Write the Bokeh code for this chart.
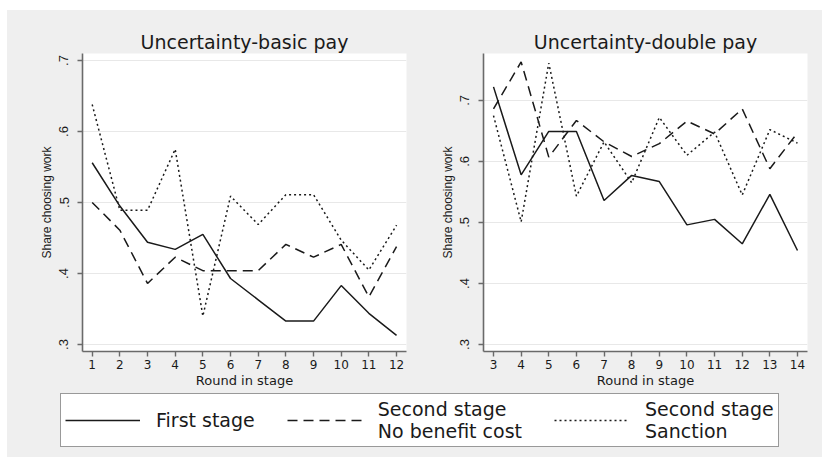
from bokeh.plotting import figure
from bokeh.layouts import column, row
from bokeh.models import FixedTicker, Legend, LegendItem, Range1d, Spacer
from bokeh.embed import file_html
from bokeh.resources import INLINE

# ---------------- data ----------------
rounds_basic = [1, 2, 3, 4, 5, 6, 7, 8, 9, 10, 11, 12]
first_basic = [0.556, 0.495, 0.444, 0.434, 0.455, 0.393, 0.363, 0.333, 0.333, 0.383, 0.344, 0.313]
nobenefit_basic = [0.500, 0.461, 0.386, 0.423, 0.404, 0.404, 0.404, 0.441, 0.423, 0.441, 0.367, 0.438]
sanction_basic = [0.638, 0.489, 0.489, 0.575, 0.340, 0.509, 0.469, 0.511, 0.511, 0.447, 0.405, 0.468]

rounds_double = [3, 4, 5, 6, 7, 8, 9, 10, 11, 12, 13, 14]
first_double = [0.722, 0.578, 0.649, 0.649, 0.536, 0.577, 0.567, 0.496, 0.505, 0.465, 0.546, 0.454]
nobenefit_double = [0.686, 0.763, 0.607, 0.667, 0.632, 0.608, 0.629, 0.666, 0.645, 0.686, 0.588, 0.647]
sanction_double = [0.675, 0.501, 0.761, 0.543, 0.632, 0.565, 0.672, 0.610, 0.648, 0.545, 0.652, 0.630]

y_ticks = [0.3, 0.4, 0.5, 0.6, 0.7]
y_tick_labels = [".3", ".4", ".5", ".6", ".7"]

series_names = ["First stage", "Second stage\nNo benefit cost", "Second stage\nSanction"]
titles = ["Uncertainty-basic pay", "Uncertainty-double pay"]
x_label = "Round in stage"
y_label = "Share choosing work"

# ---------------- style ----------------
BG = "#efefef"
INK = "#1a1a1a"
AXIS = "#6a6a6a"
GRID = "#e8e8e8"
styles = [
    dict(line_dash="solid"),
    dict(line_dash="10 6"),
    dict(line_dash="2 3"),
]


def make_panel(title, xs, ys_list, x_range, y_range, width, bl, br):
    p = figure(width=width, height=380, x_range=Range1d(*x_range), y_range=Range1d(*y_range),
               output_backend="svg", toolbar_location=None,
               min_border_left=bl, min_border_right=br, min_border_top=43, min_border_bottom=38,
               background_fill_color="white", border_fill_color=BG, outline_line_color=None)
    p.title.text = title
    p.title.align = "center"
    p.title.text_font = "DejaVu Sans"
    p.title.text_font_size = "19px"
    p.title.text_font_style = "normal"
    p.title.text_color = INK
    p.title.standoff = 1

    for ys, st in zip(ys_list, styles):
        p.line(xs, ys, line_color=INK, line_width=1.5, **st)

    p.xaxis.ticker = FixedTicker(ticks=xs)
    p.yaxis.ticker = FixedTicker(ticks=y_ticks)
    p.yaxis.major_label_overrides = dict(zip(y_ticks, y_tick_labels))
    p.yaxis.major_label_orientation = "vertical"

    for ax in (p.xaxis[0], p.yaxis[0]):
        ax.axis_line_color = AXIS
        ax.axis_line_width = 1.6
        ax.major_tick_line_color = AXIS
        ax.major_tick_line_width = 1.4
        ax.major_tick_out = 5
        ax.major_tick_in = 0
        ax.minor_tick_line_color = None
        ax.major_label_text_color = INK
        ax.axis_label_text_color = INK
        ax.axis_label_text_font_style = "normal"

    p.xaxis.major_label_text_font = "DejaVu Sans"
    p.xaxis.major_label_text_font_size = "12px"
    p.xaxis.major_label_standoff = 3
    p.xaxis.axis_label = x_label
    p.xaxis.axis_label_text_font = "DejaVu Sans"
    p.xaxis.axis_label_text_font_size = "13px"
    p.xaxis.axis_label_standoff = 1

    p.yaxis.major_label_text_font = "Liberation Sans"
    p.yaxis.major_label_text_font_size = "13px"
    p.yaxis.major_label_standoff = 9
    p.yaxis.axis_label = y_label
    p.yaxis.axis_label_text_font = "Liberation Sans"
    p.yaxis.axis_label_text_font_size = "12px"
    p.yaxis.axis_label_standoff = 3

    p.xgrid.visible = False
    p.ygrid.ticker = FixedTicker(ticks=y_ticks)
    p.ygrid.grid_line_color = GRID
    p.ygrid.grid_line_width = 1.2
    return p


p1 = make_panel(titles[0], rounds_basic, [first_basic, nobenefit_basic, sanction_basic],
                (0.65, 12.36), (0.2902, 0.7098), 410, 75, 11)
p2 = make_panel(titles[1], rounds_double, [first_double, nobenefit_double, sanction_double],
                (2.638, 14.362), (0.2886, 0.7767), 405, 66, 15)

# ---------------- legend ----------------
pl = figure(width=815, height=67, x_range=Range1d(0, 1), y_range=Range1d(0, 1),
            x_axis_type=None, y_axis_type=None, output_backend="svg", toolbar_location=None,
            min_border=0, background_fill_color=BG, border_fill_color=BG, outline_line_color=None)
pl.grid.visible = False
items = []
for name, st, ys in zip(series_names, styles, [first_basic, nobenefit_basic, sanction_basic]):
    r = pl.line(rounds_basic, ys, line_color=INK, line_width=1.5, visible=False, **st)
    items.append(LegendItem(label=name, renderers=[r]))
legend = Legend(items=items, orientation="horizontal", location=(53, 10),
                label_text_font="DejaVu Sans", label_text_font_size="19px",
                label_text_line_height=0.65, label_text_color=INK,
                glyph_width=75, glyph_height=20, label_standoff=16, spacing=32,
                padding=4, margin=0, border_line_color="#333333", border_line_width=1.2,
                background_fill_color="white", background_fill_alpha=1.0,
                inactive_fill_alpha=0.0, click_policy="none")
pl.add_layout(legend, "center")

bg = {"background-color": BG}
content = column(row(p1, p2, styles=bg), pl, styles=bg)
layout = column(Spacer(width=822, height=10), row(Spacer(width=7, height=447), content))
open("out.html", "w").write(file_html(layout, INLINE))
